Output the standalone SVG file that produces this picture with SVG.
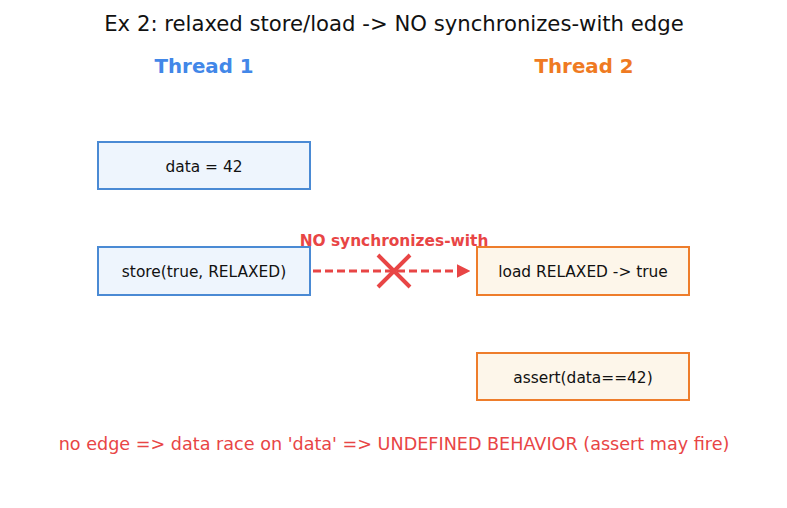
<svg xmlns="http://www.w3.org/2000/svg" width="787" height="508" viewBox="0 0 787 508">
<style>
text{font-family:"DejaVu Sans","Liberation Sans",sans-serif;text-anchor:middle}
.t1{fill:#eef5fd;stroke:#4a8ad4;stroke-width:2}
.t2{fill:#fdf6ea;stroke:#ee7d2b;stroke-width:2}
.lbl{font-size:15.4px;fill:#111}
.red{fill:#e84545}
</style>
<defs>
<marker id="ah" viewBox="0 0 10 10" refX="9" refY="5" markerWidth="4.5" markerHeight="4.5" orient="auto"><path d="M0,0L10,5L0,10z" fill="#e84545"/></marker>
</defs>
<rect width="787" height="508" fill="#fff"/>
<text x="394" y="31" font-size="21.2" fill="#111">Ex 2: relaxed store/load -&gt; NO synchronizes-with edge</text>
<text x="204" y="73" font-size="19.8" font-weight="bold" fill="#4287e8">Thread 1</text>
<text x="584" y="73" font-size="19.8" font-weight="bold" fill="#ef7a22">Thread 2</text>
<g id="n1"><rect class="t1" x="98" y="142" width="212" height="47"/><text class="lbl" x="204" y="172">data = 42</text></g>
<g id="n2"><rect class="t1" x="98" y="247" width="212" height="48"/><text class="lbl" x="204" y="277">store(true, RELAXED)</text></g>
<g id="n3"><rect class="t2" x="477" y="247" width="212" height="48"/><text class="lbl" x="583" y="277">load RELAXED -&gt; true</text></g>
<g id="n4"><rect class="t2" x="477" y="353" width="212" height="47"/><text class="lbl" x="583" y="383">assert(data==42)</text></g>
<g id="edges">
<line x1="313" y1="271" x2="469" y2="271" stroke="#e84545" stroke-width="3" stroke-dasharray="8,4" marker-end="url(#ah)"/>
<path d="M378,255L410,287M410,255L378,287" stroke="#e84545" stroke-width="4" fill="none"/>
<text x="394" y="246" font-size="15.4" font-weight="bold" class="red">NO synchronizes-with</text>
</g>
<text x="394" y="450" font-size="17.6" class="red">no edge =&gt; data race on 'data' =&gt; UNDEFINED BEHAVIOR (assert may fire)</text>
</svg>
